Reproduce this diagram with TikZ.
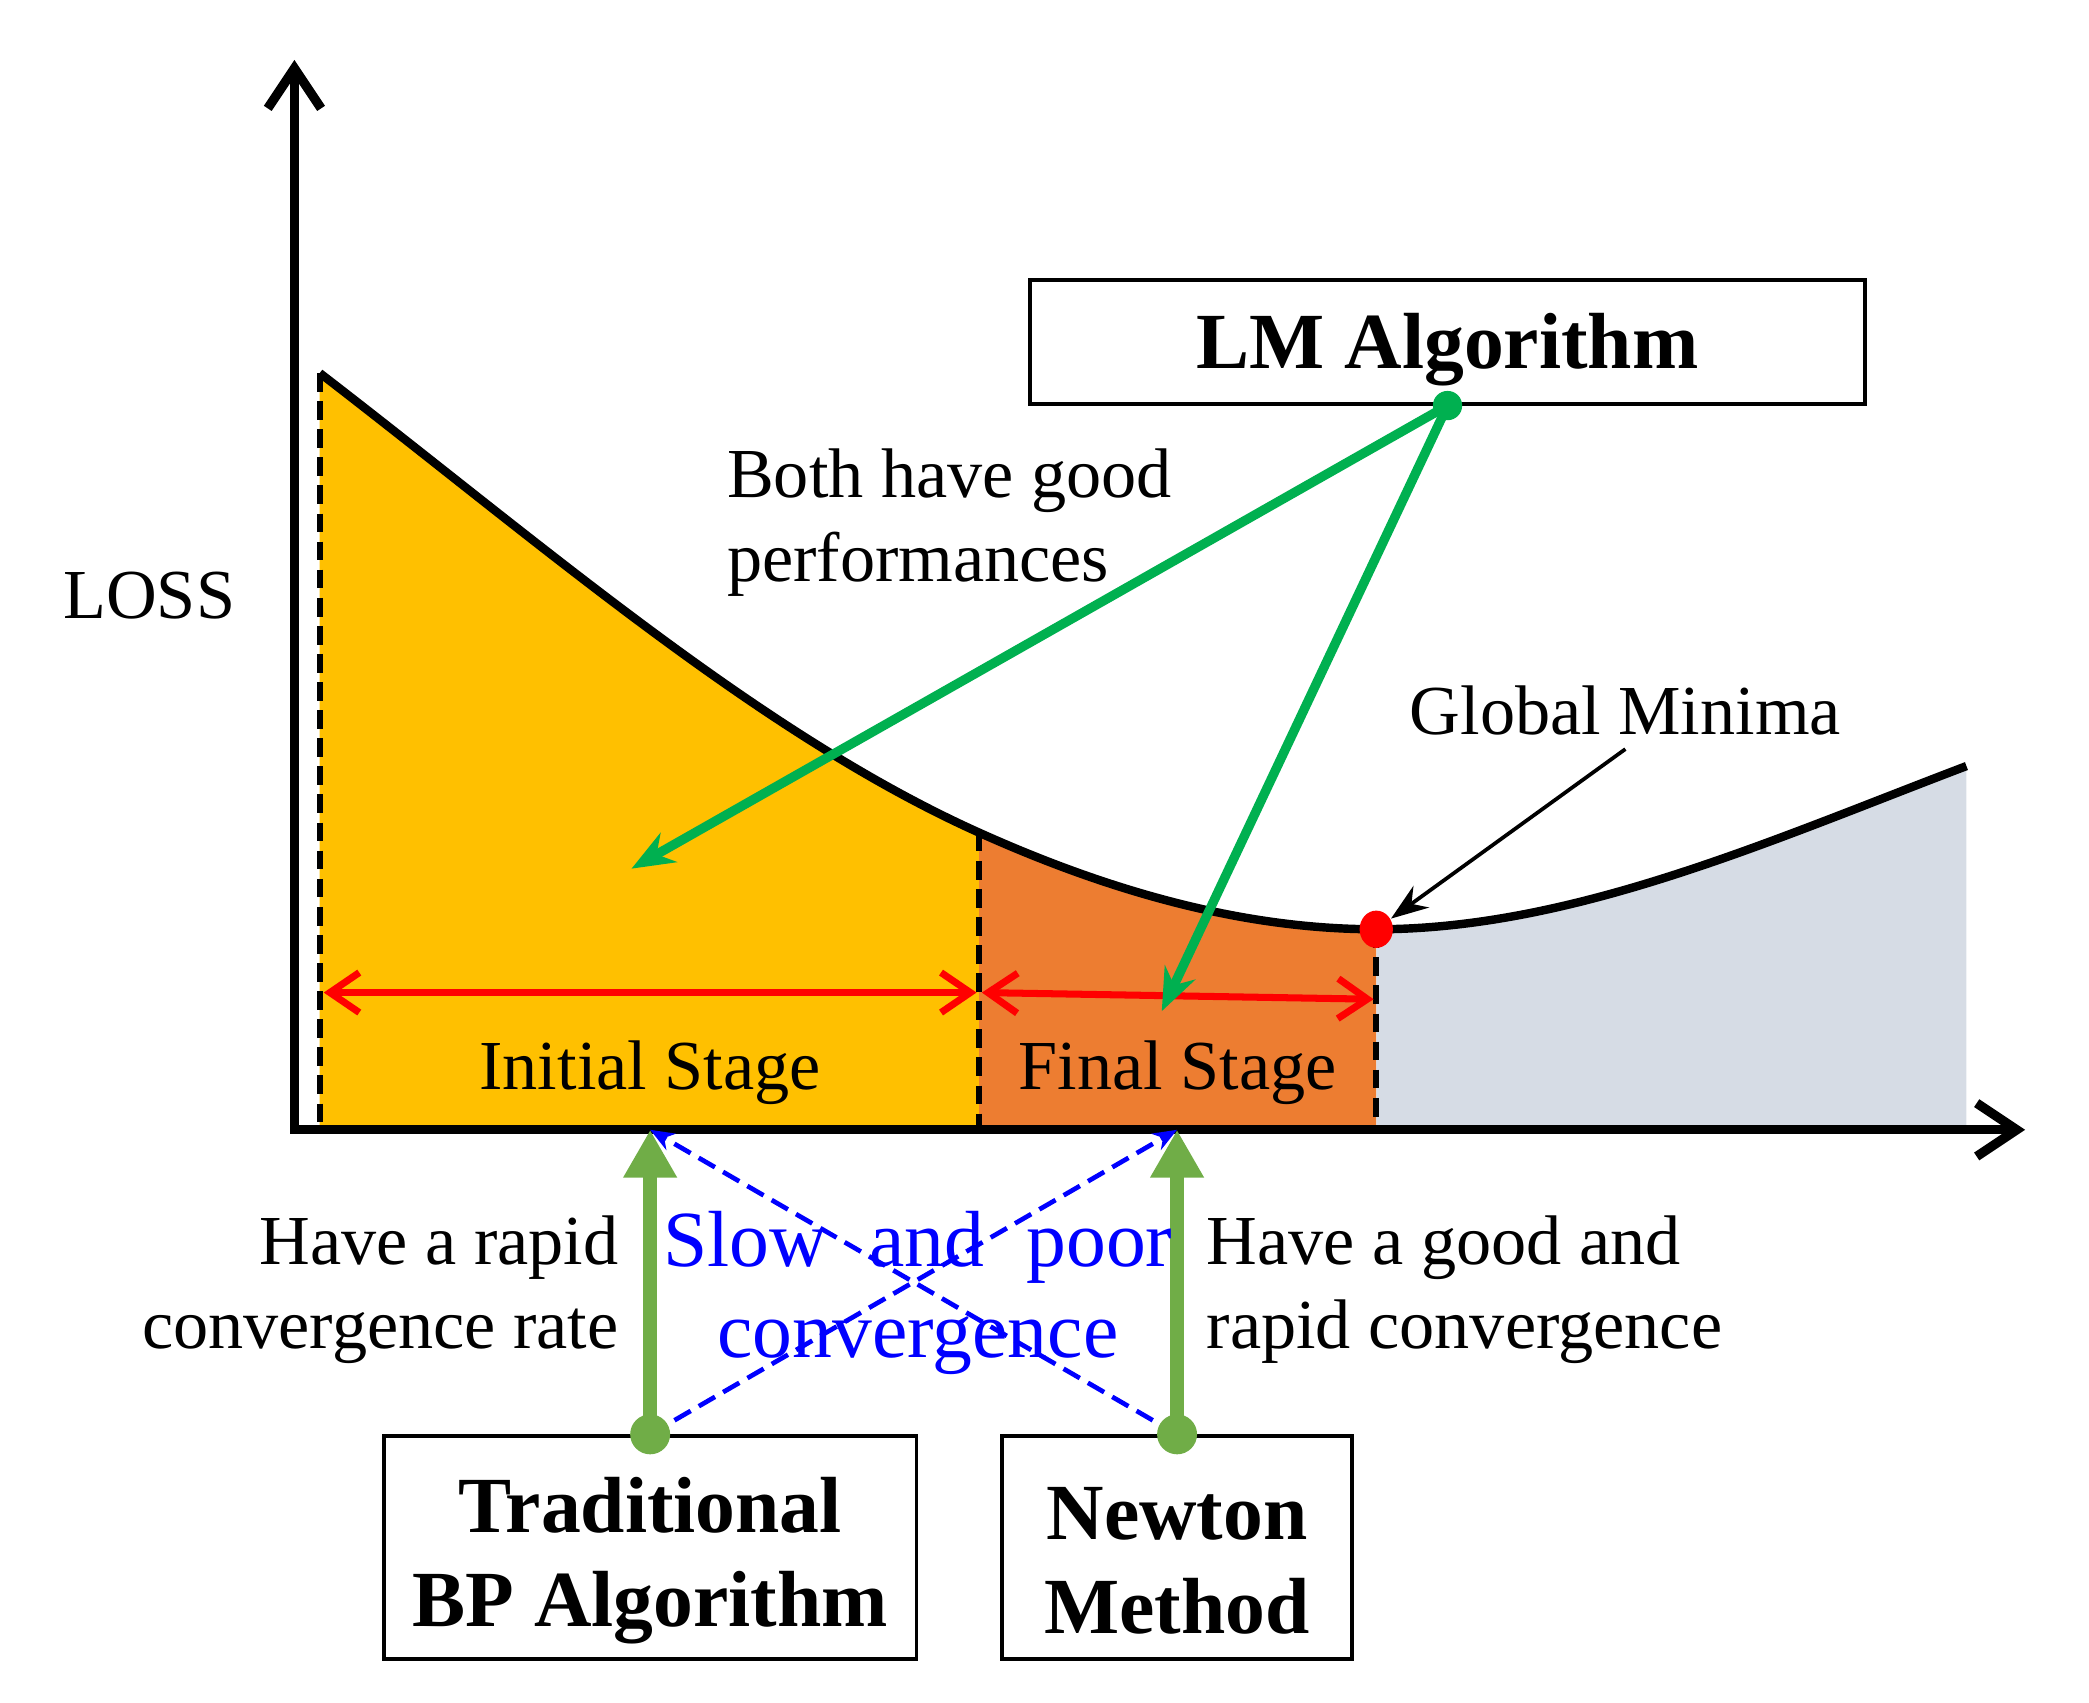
\documentclass[tikz,border=0pt]{standalone}
\usepackage{fontspec}
\setmainfont{Liberation Serif}
\usetikzlibrary{arrows.meta,shapes.geometric}
\definecolor{initfill}{RGB}{255,192,0}
\definecolor{finalfill}{RGB}{237,125,49}
\definecolor{restfill}{RGB}{214,220,229}
\definecolor{lmgreen}{RGB}{0,176,80}
\definecolor{upgreen}{RGB}{112,173,71}
\begin{document}
\begin{tikzpicture}[>={Straight Barb[length=0.22cm,width=0.3cm]},
	every node/.style={font=\fontsize{15}{18}\selectfont},
	algbox/.style={draw,line width=0.8pt},
	algtext/.style={inner sep=0pt,font=\fontsize{17}{20}\selectfont\bfseries,align=center},
	note/.style={inner sep=0pt},
	stageline/.style={line width=1.3pt,dash pattern=on 4pt off 2pt},
	span/.style={<->,red,line width=1.5pt},
	lmarrow/.style={-{Stealth[length=0.32cm,width=0.25cm]},lmgreen,line width=2pt},
	uparrow/.style={-{Triangle[length=0.36cm,width=0.38cm]},upgreen,line width=3pt},
	cross/.style={-{Stealth[length=0.18cm,width=0.14cm]},blue,line width=1pt,dash pattern=on 4pt off 2pt}]
	\useasboundingbox (-2.21,-4.30) rectangle (13.47,8.48);
	\coordinate (o) at (0,0);
	\coordinate (b0) at (0.19,5.68);
	\coordinate (b1) at (5.14,2.23);
	\coordinate (b2) at (8.12,1.505);
	\coordinate (b3) at (12.55,2.73);
	\fill[initfill] (b0) .. controls (1.84,4.41) and (3.49,2.97) .. (b1) |- (b0 |- o) -- cycle;
	\fill[finalfill] (b1) .. controls (6.13,1.785) and (7.127,1.505) .. (b2) |- (b1 |- o) -- cycle;
	\fill[restfill] (b2) .. controls (9.597,1.505) and (11.073,2.169) .. (b3) |- (b2 |- o) -- cycle;
	\draw[stageline] (b0) -- (b0 |- o) (b1) -- (b1 |- o) (b2) -- (b2 |- o);
	\draw[line width=1.8pt] (b0) .. controls (1.84,4.41) and (3.49,2.97) .. (b1) .. controls (6.13,1.785) and (7.127,1.505) .. (b2) .. controls (9.597,1.505) and (11.073,2.169) .. (b3);
	\draw[line width=2pt,{Straight Barb[length=0.3cm,width=0.4cm]}-{Straight Barb[length=0.3cm,width=0.4cm]}] (0,8.03) |- (12.99,0);
	\draw[span] (0.22,1.03) -- (5.12,1.03);
	\draw[span] (5.16,1.03) -- (8.10,0.98);
	\node[fill=red,ellipse,inner sep=0pt,minimum width=0.25cm,minimum height=0.28cm] (mind) at (b2) {};

	\node[note] (loss) at (-1.09,4.01) {LOSS};
	\node[note] (init) at (2.67,0.43) {Initial Stage};
	\node[note] (final) at (6.63,0.43) {Final Stage};
	\node[note,align=left,anchor=west] (both) at (3.24,4.56) {Both have good\\performances};
	\node[note] (gmin) at (9.99,3.15) {Global Minima};
	\draw[line width=0.8pt,-{Stealth[length=0.28cm,width=0.2cm]}] ([yshift=-0.1cm]gmin.south) -- (mind);

	\node[algbox,minimum width=6.27cm,minimum height=0.93cm] (lm) at (8.655,5.915) {};
	\node[algtext] at ([yshift=-0.06cm]lm.center) {LM Algorithm};
	\coordinate (initpt) at (2.53,1.96);
	\coordinate (finalpt) at (6.51,0.89);
	\draw[lmarrow] (lm.south) -- (initpt);
	\draw[lmarrow] (lm.south) -- (finalpt);
	\fill[lmgreen] (lm.south) circle (0.11);

	\node[algbox,minimum width=4cm,minimum height=1.67cm] (bp) at (2.67,-3.135) {};
	\node[algtext] at ([yshift=-0.1cm]bp.center) {Traditional\\BP Algorithm};
	\node[algbox,minimum width=2.63cm,minimum height=1.67cm] (nm) at (6.625,-3.135) {};
	\node[algtext] at ([yshift=-0.1cm]nm.center) {Newton\\Method};
	\draw[cross] (bp.north) -- (nm.north |- o);
	\draw[cross] (nm.north) -- (bp.north |- o);
	\draw[uparrow] (bp.north) -- (bp.north |- o);
	\draw[uparrow] (nm.north) -- (nm.north |- o);
	\fill[upgreen] (bp.north) circle (0.15) (nm.north) circle (0.15);

	\node[note,align=right,anchor=east] (rapid) at (2.44,-1.2) {Have a rapid\\convergence rate};
	\node[note,align=center,blue,font=\fontsize{17}{19.5}\selectfont] (slow) at (4.68,-1.225) {\makebox[3.82cm][s]{Slow and poor}\\convergence};
	\node[note,align=left,anchor=west] (good) at (6.84,-1.2) {Have a good and\\rapid convergence};
\end{tikzpicture}
\end{document}
